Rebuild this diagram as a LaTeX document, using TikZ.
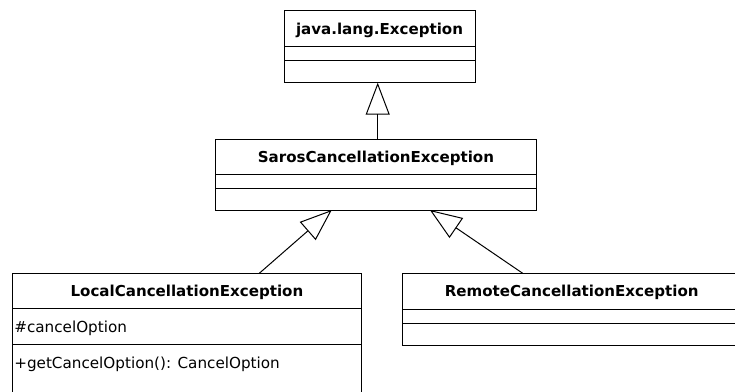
\documentclass[tikz,border=0pt]{standalone}
\usepackage{fontspec}
\setmainfont{DejaVu Sans}
\usetikzlibrary{arrows.meta,calc}
\tikzset{
  classbox/.style={draw=black, line width=0.75pt, rectangle, inner sep=0pt, outer sep=0pt, anchor=north west},
  divider/.style={draw=black, line width=0.75pt},
  title/.style={font=\fontsize{11.3}{13}\selectfont\bfseries, anchor=base, inner sep=0pt},
  member/.style={font=\fontsize{11.4}{13}\selectfont, anchor=base west, inner sep=0pt},
  inherit/.style={draw=black, line width=0.75pt, -{Triangle[open, length=24pt, width=18pt, line width=0.75pt]}}
}
\begin{document}
\begin{tikzpicture}[x=0.75pt, y=-0.75pt]
\useasboundingbox (0,0) rectangle (735,392);
\clip (0,0) rectangle (735,392);
% java.lang.Exception
\node[classbox, minimum width=143.25pt, minimum height=53.78pt] (java) at (284,11) {};
\draw[divider] ($(java.north west)+(0,35.7)$) -- ($(java.north east)+(0,35.7)$);
\draw[divider] ($(java.north west)+(0,50)$) -- ($(java.north east)+(0,50)$);
\node[title] (javat) at (379.5,34.3) {java.lang.Exception};
% SarosCancellationException
\node[classbox, minimum width=241.28pt, minimum height=53.03pt] (saros) at (215,139.3) {};
\draw[divider] ($(saros.north west)+(0,35)$) -- ($(saros.north east)+(0,35)$);
\draw[divider] ($(saros.north west)+(0,49.7)$) -- ($(saros.north east)+(0,49.7)$);
\node[title] (sarost) at (375.9,162.2) {SarosCancellationException};
% LocalCancellationException
\node[classbox, minimum width=261.23pt, minimum height=97.5pt] (local) at (12.7,273.3) {};
\draw[divider] ($(local.north west)+(0,35)$) -- ($(local.north east)+(0,35)$);
\draw[divider] ($(local.north west)+(0,71)$) -- ($(local.north east)+(0,71)$);
\node[title] (localt) at (186.9,296.2) {LocalCancellationException};
\node[member] (attr) at (14,332.2) {\#cancelOption};
\node[member] (meth) at (14,368) {+getCancelOption(): CancelOption};
% RemoteCancellationException
\node[classbox, minimum width=253.5pt, minimum height=53.78pt] (remote) at (402.7,273.3) {};
\draw[divider] ($(remote.north west)+(0,35.7)$) -- ($(remote.north east)+(0,35.7)$);
\draw[divider] ($(remote.north west)+(0,50)$) -- ($(remote.north east)+(0,50)$);
\node[title] (remotet) at (571.7,296.4) {RemoteCancellationException};
% generalizations
\draw[inherit] (saros.north -| 377.7,0) -- (java.south -| 377.7,0);
\draw[inherit] ($(local.north west)!0.708!(local.north east)$) -- ($(saros.south west)!0.363!(saros.south east)$);
\draw[inherit] ($(remote.north west)!0.355!(remote.north east)$) -- ($(saros.south west)!0.668!(saros.south east)$);
\end{tikzpicture}
\end{document}
